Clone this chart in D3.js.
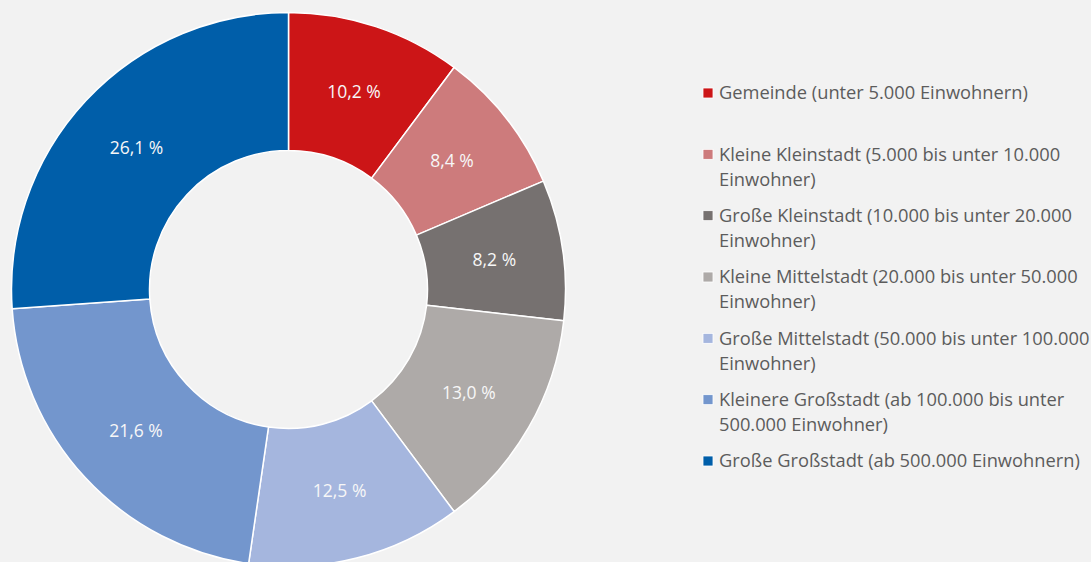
<!DOCTYPE html>
<html><head><meta charset="utf-8">
<script src="https://cdn.jsdelivr.net/npm/d3@7"></script>
<style>
html,body{margin:0;padding:0;background:#f2f2f2;}
svg{display:block;}
</style></head>
<body>
<svg id="c" width="1091" height="562"></svg>
<script>
const categories = [
  "Gemeinde (unter 5.000 Einwohnern)",
  "Kleine Kleinstadt (5.000 bis unter 10.000|Einwohner)",
  "Große Kleinstadt (10.000 bis unter 20.000|Einwohner)",
  "Kleine Mittelstadt (20.000 bis unter 50.000|Einwohner)",
  "Große Mittelstadt (50.000 bis unter 100.000|Einwohner)",
  "Kleinere Großstadt (ab 100.000 bis unter|500.000 Einwohner)",
  "Große Großstadt (ab 500.000 Einwohnern)"
];
const values = [10.2, 8.4, 8.2, 13.0, 12.5, 21.6, 26.1];
const colors = ["#cc1517", "#cd7b7c", "#767170", "#aeaaa8", "#a5b6de", "#7396cd", "#005ea9"];

const svg = d3.select("#c");
const font = "'Open Sans', 'Noto Sans', sans-serif";
const cx = 288.5, cy = 289.5, rOuter = 277, rInner = 139;

const data = categories.map((c, i) => ({name: c, value: values[i], color: colors[i]}));
const pie = d3.pie().value(d => d.value).sort(null);
const arc = d3.arc().innerRadius(rInner).outerRadius(rOuter);
const arcs = pie(data);

const g = svg.append("g").attr("transform", `translate(${cx},${cy})`);
g.selectAll("path").data(arcs).enter().append("path")
  .attr("d", arc)
  .attr("fill", d => d.data.color)
  .attr("stroke", "#ffffff")
  .attr("stroke-width", 1.5)
  .attr("stroke-linejoin", "round");

const fmt = v => d3.format(".1f")(v).replace(".", ",") + " %";
g.selectAll("text.lbl").data(arcs).enter().append("text")
  .attr("class", "lbl")
  .attr("transform", d => `translate(${arc.centroid(d)})`)
  .attr("text-anchor", "middle")
  .attr("dy", "0.35em")
  .attr("fill", "#f7f7f7")
  .style("font-family", font)
  .style("font-size", "17.5px")
  .text(d => fmt(d.data.value));

// legend
const legY = d3.scalePoint().domain(d3.range(categories.length)).range([93, 461]);
const leg = svg.append("g");
const items = leg.selectAll("g.item").data(data).enter().append("g")
  .attr("class", "item")
  .attr("transform", (d, i) => `translate(703,${legY(i)})`);
items.append("rect")
  .attr("x", 0).attr("y", -5).attr("width", 10).attr("height", 10)
  .attr("fill", d => d.color)
  .attr("stroke", "#ffffff").attr("stroke-width", 0.8);
items.append("text")
  .attr("x", 16)
  .attr("fill", "#5c5c5c")
  .style("font-family", font)
  .style("font-size", "18.3px")
  .each(function(d) {
    const lines = d.name.split("|");
    const t = d3.select(this);
    lines.forEach((ln, k) => {
      t.append("tspan").attr("x", 16).attr("y", k * 25).attr("dy", "0.35em").text(ln);
    });
  });
</script>
</body></html>
